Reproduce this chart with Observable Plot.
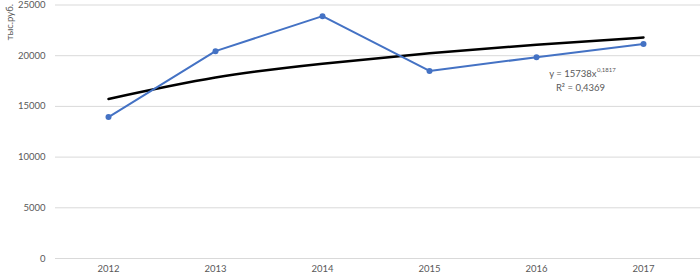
<!DOCTYPE html>
<html><head><meta charset="utf-8">
<script src="https://cdn.jsdelivr.net/npm/d3@7"></script>
<script src="https://cdn.jsdelivr.net/npm/@observablehq/plot@0.6"></script>
<style>body{margin:0;background:#fff}</style>
</head><body><div id="chart"></div>
<script>
const years = ["2012","2013","2014","2015","2016","2017"];
const values = [13950, 20450, 23900, 18500, 19850, 21150];
const trend = [15738, 17850, 19215, 20246, 21084, 21794];
const yTicks = [0, 5000, 10000, 15000, 20000, 25000];
const yLabel = "тыс.руб.";
const eqLines = ["y = 15738x", "R² = 0,4369"];
const eqExp = "0,1817";

const data = years.map((y, i) => ({year: y, value: values[i], trend: trend[i]}));
const gray = "#595959";
const font = "Lato, 'Open Sans', sans-serif";

const chart = Plot.plot({
  width: 700, height: 276,
  marginLeft: 54, marginRight: 3, marginTop: 4.5, marginBottom: 18,
  style: {fontFamily: font, fontSize: "9.5px", color: gray, background: "#fff"},
  x: {type: "point", domain: years, padding: 0.5, label: null},
  y: {domain: [0, 25000], ticks: yTicks, label: null},
  marks: [
    Plot.ruleY(yTicks, {stroke: "#d9d9d9", strokeWidth: 1, insetRight: -3, insetLeft: 1}),
    Plot.axisX({tickSize: 0, tickPadding: 7, fill: gray, fontSize: 9.5}),
    Plot.axisY({ticks: yTicks, tickSize: 0, tickPadding: 9, fill: gray, fontSize: 9.5, tickFormat: d => String(d)}),
    Plot.text([yLabel], {frameAnchor: "top-left", rotate: -90, textAnchor: "end", dx: -48, dy: -1, fill: gray, fontSize: 9.5}),
    Plot.line(data, {x: "year", y: "trend", stroke: "#000", strokeWidth: 2.5, curve: "natural"}),
    Plot.line(data, {x: "year", y: "value", stroke: "#4472C4", strokeWidth: 2}),
    Plot.dot(data, {x: "year", y: "value", r: 3, fill: "#4472C4"}),
    Plot.text([eqLines[0]], {x: () => "2016", y: () => 18200, dx: 60, fill: gray, fontSize: 9.5, textAnchor: "end"}),
    Plot.text([eqExp], {x: () => "2016", y: () => 18200, dx: 60.5, dy: -4, fill: gray, fontSize: 6, textAnchor: "start"}),
    Plot.text([eqLines[1]], {x: () => "2016", y: () => 16800, dx: 44, fill: gray, fontSize: 9.5, textAnchor: "middle"})
  ]
});
document.getElementById("chart").append(chart);
</script>
</body></html>
